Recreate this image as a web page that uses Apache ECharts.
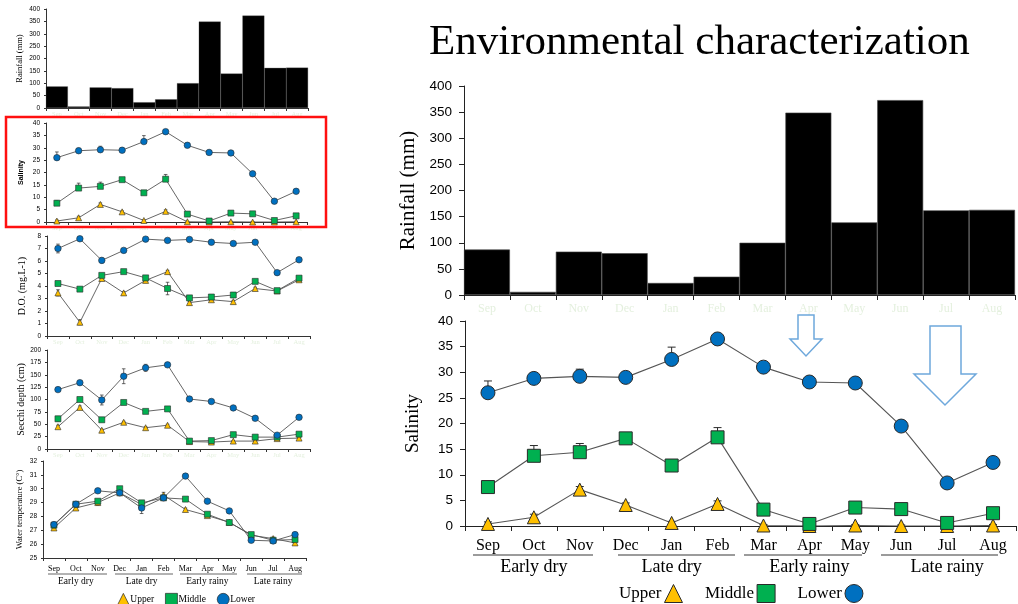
<!DOCTYPE html>
<html>
<head>
<meta charset="utf-8">
<script src="https://cdn.jsdelivr.net/npm/echarts@6/dist/echarts.min.js"></script>
<style>html,body{margin:0;padding:0;background:#fff}#c{width:1018px;height:604px}</style>
</head>
<body>
<div id="c"></div>
<script>
// ---------------- data ----------------
const months = ['Sep','Oct','Nov','Dec','Jan','Feb','Mar','Apr','May','Jun','Jul','Aug'];
const seasons = ['Early dry','Late dry','Early rainy','Late rainy'];
const stations = ['Upper','Middle','Lower'];
const titleText = 'Environmental characterization';

const rainfall = [87, 6, 83, 80, 23, 35, 100, 349, 139, 373, 162, 163];

const salUpper  = [0.4, 1.7, 7.1, 4.1, 0.6, 4.3, 0.1, 0.0, 0.1, 0.0, 0.0, 0.1];
const salMiddle = [7.6, 13.7, 14.4, 17.1, 11.8, 17.3, 3.2, 0.4, 3.6, 3.3, 0.6, 2.5];
const salLower  = [26.0, 28.8, 29.2, 29.0, 32.5, 36.5, 31.0, 28.1, 27.9, 19.5, 8.4, 12.4];
const salUpperErr  = [0.4, 0.6, 0.6, 0.4, 0.3, 0.6, 0.2, 0.2, 0.2, 0.2, 0.2, 0.2];
const salMiddleErr = [1.1, 2.0, 1.7, 0.7, 0.8, 1.9, 0.7, 0.5, 0.7, 0.6, 0.4, 0.8];
const salLowerErr  = [2.3, 1.0, 1.4, 1.0, 2.4, 0.7, 0.9, 0.9, 0.9, 0.8, 0.6, 0.6];

const doUpper  = [3.45, 1.1, 4.6, 3.45, 4.45, 5.15, 2.67, 2.9, 2.75, 3.8, 3.6, 4.5];
const doMiddle = [4.2, 3.75, 4.85, 5.15, 4.65, 3.8, 3.05, 3.12, 3.28, 4.37, 3.63, 4.63];
const doLower  = [7.0, 7.78, 6.05, 6.85, 7.75, 7.65, 7.72, 7.5, 7.4, 7.5, 5.07, 6.1];
const doUpperErr  = [0.25, 0.2, 0.1, 0.1, 0.1, 0.1, 0.1, 0.1, 0.1, 0.1, 0.1, 0.1];
const doMiddleErr = [0.1, 0.1, 0.1, 0.1, 0.1, 0.5, 0.1, 0.1, 0.1, 0.1, 0.1, 0.1];
const doLowerErr  = [0.35, 0.1, 0.2, 0.1, 0.1, 0.1, 0.1, 0.1, 0.1, 0.1, 0.1, 0.1];

const secUpper  = [45, 84, 38, 54, 43, 48, 15, 14, 16, 16, 21, 22];
const secMiddle = [61, 100, 59, 94, 76, 81, 16, 17, 29, 24, 24, 30];
const secLower  = [120, 134, 99, 147, 164, 170, 101, 96, 83, 62, 28, 64];
const secUpperErr  = [3, 3, 2, 2, 2, 2, 1, 1, 1, 1, 1, 1];
const secMiddleErr = [5, 3, 3, 3, 3, 3, 2, 2, 2, 2, 2, 2];
const secLowerErr  = [3, 3, 10, 15, 7, 3, 2, 2, 2, 2, 2, 2];

const tempUpper  = [27.17, 28.61, 29.0, 29.7, 28.86, 29.54, 28.5, 28.06, 27.58, 26.64, 26.4, 26.09];
const tempMiddle = [27.37, 28.88, 29.1, 30.0, 28.98, 29.34, 29.25, 28.16, 27.56, 26.69, 26.28, 26.33];
const tempLower  = [27.41, 28.88, 29.85, 29.7, 28.61, 29.34, 30.91, 29.1, 28.4, 26.28, 26.23, 26.69];
const tempUpperErr  = [0.1, 0.1, 0.2, 0.1, 0.1, 0.2, 0.1, 0.1, 0.1, 0.1, 0.1, 0.1];
const tempMiddleErr = [0.1, 0.1, 0.1, 0.1, 0.1, 0.1, 0.1, 0.1, 0.1, 0.1, 0.1, 0.1];
const tempLowerErr  = [0.1, 0.1, 0.1, 0.1, 0.4, 0.1, 0.1, 0.1, 0.1, 0.1, 0.1, 0.1];

// ---------------- styling ----------------
const SERIF = 'Liberation Serif';
const SANS = 'Liberation Sans';
const COL = {Upper: '#ffc000', Middle: '#00b050', Lower: '#0070c0'};
const SYM = {Upper: 'triangle', Middle: 'rect', Lower: 'circle'};
const GHOST = '#e4f0de';

const grids = [
  {left: 46, top: 9,   width: 262, height: 99},   // 0 left rainfall
  {left: 46, top: 123, width: 261, height: 99},   // 1 left salinity
  {left: 47, top: 236, width: 263, height: 100},  // 2 left DO
  {left: 47, top: 350, width: 263, height: 99},   // 3 left secchi
  {left: 43, top: 461, width: 263, height: 97},   // 4 left temperature
  {left: 464, top: 86, width: 551, height: 209},  // 5 right rainfall
  {left: 465, top: 321, width: 551, height: 205}  // 6 right salinity
];

function xCat(gi, small, labelStyle) {
  return {
    type: 'category', gridIndex: gi, data: months, boundaryGap: true,
    axisLine: {show: true, lineStyle: {color: small ? '#333' : '#222', width: 1}},
    axisTick: {show: true, length: small ? 3 : 5, lineStyle: {color: small ? '#333' : '#222'}},
    axisLabel: labelStyle,
    splitLine: {show: false}
  };
}
function ghostLabel(small) {
  return {show: true, color: GHOST, fontFamily: SERIF, fontSize: small ? 6.5 : 12, margin: small ? 3 : 8, interval: 0};
}
function yVal(gi, small, min, max, interval, name, nameGap, nameStyle) {
  return {
    type: 'value', gridIndex: gi, min, max, interval,
    axisLine: {show: true, lineStyle: {color: small ? '#333' : '#222', width: 1}},
    axisTick: {show: true, length: small ? 2 : 5, lineStyle: {color: small ? '#333' : '#222'}},
    splitLine: {show: false},
    axisLabel: {color: '#000', fontFamily: SANS, fontSize: small ? 6.5 : 13.5, margin: small ? 6 : 12},
    name, nameLocation: 'middle', nameGap,
    nameTextStyle: Object.assign({color: '#000'}, nameStyle)
  };
}

const xAxis = [
  xCat(0, true, ghostLabel(true)),
  xCat(1, true, ghostLabel(true)),
  xCat(2, true, ghostLabel(true)),
  xCat(3, true, ghostLabel(true)),
  xCat(4, true, {show: true, color: '#000', fontFamily: SERIF, fontSize: 8, margin: 7, interval: 0}),
  xCat(5, false, ghostLabel(false)),
  xCat(6, false, {show: true, color: '#000', fontFamily: SERIF, fontSize: 16, margin: 12, interval: 0}),
  // season axes
  {type: 'category', gridIndex: 4, data: seasons, position: 'bottom', offset: 0,
   axisLine: {show: false}, axisTick: {show: false}, splitLine: {show: false},
   axisLabel: {color: '#000', fontFamily: SERIF, fontSize: 9.5, margin: 18, interval: 0}},
  {type: 'category', gridIndex: 6, data: seasons, position: 'bottom', offset: 0,
   axisLine: {show: false}, axisTick: {show: false}, splitLine: {show: false},
   axisLabel: {color: '#000', fontFamily: SERIF, fontSize: 18, margin: 32, interval: 0}}
];

const yAxis = [
  yVal(0, true, 0, 400, 50, 'Rainfall (mm)', 22, {fontFamily: SERIF, fontSize: 8.5}),
  yVal(1, true, 0, 40, 5, 'Salinity', 21, {fontFamily: SANS, fontSize: 7, fontWeight: 'bold'}),
  yVal(2, true, 0, 8, 1, 'D.O. (mg.L-1)', 20, {fontFamily: SERIF, fontSize: 10}),
  yVal(3, true, 0, 200, 25, 'Secchi depth (cm)', 20, {fontFamily: SERIF, fontSize: 10}),
  yVal(4, true, 25, 32, 1, 'Water temperature (C°)', 19, {fontFamily: SERIF, fontSize: 8.5}),
  yVal(5, false, 0, 400, 50, 'Rainfall (mm)', 40, {fontFamily: SERIF, fontSize: 21}),
  yVal(6, false, 0, 40, 5, 'Salinity', 42, {fontFamily: SERIF, fontSize: 19})
];

function barSeries(gi) {
  return {
    type: 'bar', name: 'Rainfall', data: rainfall, xAxisIndex: gi, yAxisIndex: gi,
    barCategoryGap: '0%', barGap: '0%',
    itemStyle: {color: '#000', borderColor: '#444', borderWidth: gi === 5 ? 0.6 : 0.3},
    emphasis: {disabled: true}, silent: true
  };
}
function lineSeries(name, data, gi, small) {
  return {
    type: 'line', name, data, xAxisIndex: gi, yAxisIndex: gi,
    symbol: SYM[name],
    symbolSize: small ? (name === 'Lower' ? 6.5 : 6) : (name === 'Lower' ? 14 : 13),
    showAllSymbol: true,
    lineStyle: {color: '#555', width: small ? 0.9 : 1.1},
    itemStyle: {color: COL[name], borderColor: '#2a2a2a', borderWidth: small ? 0.6 : 1},
    z: 4, emphasis: {disabled: true}
  };
}
function errSeries(vals, errs, gi, small, sym) {
  const capW = small ? 1.8 : 4;
  return {
    type: 'custom', name: 'err', xAxisIndex: gi, yAxisIndex: gi, z: 3, silent: true,
    data: vals.map((v, i) => [i, v, errs[i]]),
    encode: {x: 0, y: 1},
    renderItem: function (params, api) {
      const x = api.value(0), y = api.value(1), e = api.value(2);
      const hi = api.coord([x, y + e]);
      const lo = api.coord([x, sym ? y - e : y]);
      const st = {stroke: '#2a2a2a', lineWidth: small ? 0.7 : 1};
      const ch = [
        {type: 'line', shape: {x1: hi[0], y1: hi[1], x2: lo[0], y2: lo[1]}, style: st},
        {type: 'line', shape: {x1: hi[0] - capW, y1: hi[1], x2: hi[0] + capW, y2: hi[1]}, style: st}
      ];
      if (sym) ch.push({type: 'line', shape: {x1: lo[0] - capW, y1: lo[1], x2: lo[0] + capW, y2: lo[1]}, style: st});
      return {type: 'group', children: ch};
    }
  };
}
function lineGroup(gi, small, up, mid, low, upE, midE, lowE, sym) {
  return [
    errSeries(up, upE, gi, small, sym), errSeries(mid, midE, gi, small, sym), errSeries(low, lowE, gi, small, sym),
    lineSeries('Upper', up, gi, small), lineSeries('Middle', mid, gi, small), lineSeries('Lower', low, gi, small)
  ];
}

const series = [
  barSeries(0), barSeries(5),
  ...lineGroup(1, true, salUpper, salMiddle, salLower, salUpperErr, salMiddleErr, salLowerErr, false),
  ...lineGroup(2, true, doUpper, doMiddle, doLower, doUpperErr, doMiddleErr, doLowerErr, true),
  ...lineGroup(3, true, secUpper, secMiddle, secLower, secUpperErr, secMiddleErr, secLowerErr, true),
  ...lineGroup(4, true, tempUpper, tempMiddle, tempLower, tempUpperErr, tempMiddleErr, tempLowerErr, true),
  ...lineGroup(6, false, salUpper, salMiddle, salLower, salUpperErr, salMiddleErr, salLowerErr, false)
];

function legendData(border) {
  return stations.map(s => ({name: s, icon: SYM[s],
    itemStyle: {color: COL[s], borderColor: '#2a2a2a', borderWidth: border}}));
}

const legend = [
  {left: 614, top: 579, align: 'right', orient: 'horizontal', itemWidth: 18, itemHeight: 18, itemGap: 22,
   selectedMode: false, data: legendData(1),
   textStyle: {fontFamily: SERIF, fontSize: 17, color: '#000', padding: [0, -2, 0, 0]}},
  {left: 112, top: 588, align: 'left', orient: 'horizontal', itemWidth: 12, itemHeight: 12, itemGap: 11,
   selectedMode: false, data: legendData(0.7),
   textStyle: {fontFamily: SERIF, fontSize: 9.5, color: '#000', padding: [0, 0, 0, -4]}}
];

function hline(x1, x2, y, w, c) {
  return {type: 'line', shape: {x1, y1: y, x2, y2: y}, style: {stroke: c, lineWidth: w}, silent: true};
}
const arrowStyle = {fill: '#ffffff', stroke: '#6ea8dc', lineWidth: 1.5};
const graphic = [
  // season underlines, right
  hline(473, 593, 555, 1.5, '#7a7a7a'), hline(618, 735, 555, 1.5, '#7a7a7a'),
  hline(744, 862, 555, 1.5, '#7a7a7a'), hline(881, 998, 555, 1.5, '#7a7a7a'),
  // season underlines, left
  hline(48, 107, 574, 0.9, '#555'), hline(115, 173, 574, 0.9, '#555'),
  hline(180, 237, 574, 0.9, '#555'), hline(247, 302, 574, 0.9, '#555'),
  // red highlight box
  {type: 'rect', shape: {x: 6, y: 117, width: 320, height: 110}, style: {fill: 'none', stroke: '#ff1010', lineWidth: 2.5}, silent: true, z: 10},
  // arrows
  {type: 'polygon', shape: {points: [[798,315],[814,315],[814,339],[822,339],[806,356],[790,339],[798,339]]}, style: arrowStyle, silent: true, z: 10},
  {type: 'polygon', shape: {points: [[930,326],[961,326],[961,374],[976,374],[945,405],[914,374],[930,374]]}, style: arrowStyle, silent: true, z: 10}
];

const chart = echarts.init(document.getElementById('c'), null, {renderer: 'canvas'});
chart.setOption({
  backgroundColor: '#fff',
  animation: false,
  title: {text: titleText, left: 424, top: 16,
    textStyle: {fontFamily: SERIF, fontSize: 43, fontWeight: 'normal', color: '#000'}},
  grid: grids,
  xAxis, yAxis, series, legend, graphic,
  tooltip: {show: false}
});
</script>
</body>
</html>
